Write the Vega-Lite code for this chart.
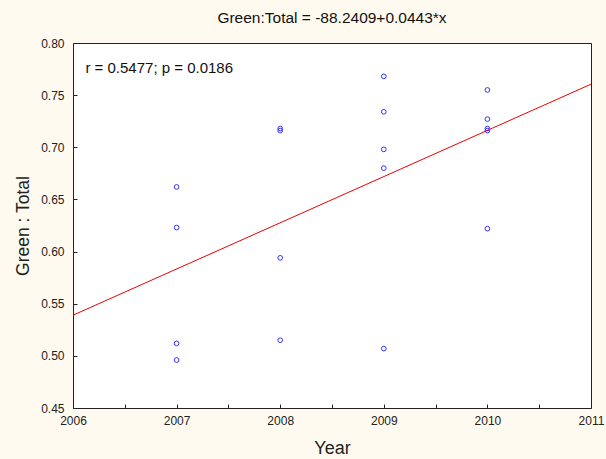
{
  "$schema": "https://vega.github.io/schema/vega-lite/v6.json",
  "width": 518,
  "height": 365,
  "autosize": {"type": "none"},
  "padding": {"left": 73, "top": 43, "right": 15, "bottom": 51},
  "background": "#FFFAEF",
  "config": {
    "font": "Liberation Sans",
    "view": {"fill": "white", "stroke": "#222", "strokeWidth": 1}
  },
  "title": {"text": "Green:Total = -88.2409+0.0443*x", "fontSize": 15.5, "fontWeight": "normal", "font": "Liberation Sans", "color": "#111", "offset": 11},
  "datasets": {
    "pts": [
      {"Year": 2007, "Ratio": 0.662}, {"Year": 2007, "Ratio": 0.623}, {"Year": 2007, "Ratio": 0.512}, {"Year": 2007, "Ratio": 0.496},
      {"Year": 2008, "Ratio": 0.718}, {"Year": 2008, "Ratio": 0.716}, {"Year": 2008, "Ratio": 0.594}, {"Year": 2008, "Ratio": 0.515},
      {"Year": 2009, "Ratio": 0.768}, {"Year": 2009, "Ratio": 0.734}, {"Year": 2009, "Ratio": 0.698}, {"Year": 2009, "Ratio": 0.680}, {"Year": 2009, "Ratio": 0.507},
      {"Year": 2010, "Ratio": 0.755}, {"Year": 2010, "Ratio": 0.727}, {"Year": 2010, "Ratio": 0.718}, {"Year": 2010, "Ratio": 0.716}, {"Year": 2010, "Ratio": 0.622}
    ],
    "fit": [{"Year": 2006, "Ratio": 0.539}, {"Year": 2011, "Ratio": 0.7605}]
  },
  "layer": [
    {
      "data": {"name": "pts"},
      "mark": {"type": "point", "shape": "circle", "filled": false, "color": "#3333FF", "size": 22, "strokeWidth": 1, "opacity": 1},
      "encoding": {
        "x": {"field": "Year", "type": "quantitative", "scale": {"domain": [2006, 2011], "nice": false, "zero": false},
              "axis": {"values": [2006, 2006.25, 2006.5, 2006.75, 2007, 2007.25, 2007.5, 2007.75, 2008, 2008.25, 2008.5, 2008.75, 2009, 2009.25, 2009.5, 2009.75, 2010, 2010.25, 2010.5, 2010.75, 2011],
                       "labelExpr": "datum.value % 1 == 0 ? format(datum.value, 'd') : ''",
                       "labelOverlap": false, "labelBound": false, "labelFlush": false,
                       "grid": false, "domain": false, "zindex": 1,
                       "offset": -4, "tickSize": 4, "tickColor": "#222", "tickWidth": 1,
                       "labelPadding": 7, "labelFontSize": 12, "labelColor": "#222", "labelFont": "Liberation Sans",
                       "title": "Year", "titleFont": "Liberation Sans", "titleFontWeight": "normal", "titleColor": "#222", "titleFontSize": 18, "titlePadding": 13}},
        "y": {"field": "Ratio", "type": "quantitative", "scale": {"domain": [0.45, 0.80], "nice": false, "zero": false},
              "axis": {"values": [0.45, 0.4625, 0.475, 0.4875, 0.5, 0.5125, 0.525, 0.5375, 0.55, 0.5625, 0.575, 0.5875, 0.6, 0.6125, 0.625, 0.6375, 0.65, 0.6625, 0.675, 0.6875, 0.7, 0.7125, 0.725, 0.7375, 0.75, 0.7625, 0.775, 0.7875, 0.8],
                       "labelExpr": "abs(datum.value * 20 - round(datum.value * 20)) < 0.001 ? format(datum.value, '.2f') : ''",
                       "labelOverlap": false, "labelBound": false, "labelFlush": false,
                       "grid": false, "domain": false, "zindex": 1,
                       "offset": -4, "tickSize": 4, "tickColor": "#222", "tickWidth": 1,
                       "labelPadding": 9, "labelFontSize": 12, "labelColor": "#222", "labelFont": "Liberation Sans",
                       "title": "Green : Total", "titleFont": "Liberation Sans", "titleFontWeight": "normal", "titleColor": "#222", "titleFontSize": 17.5, "titlePadding": 8}}
      }
    },
    {
      "data": {"name": "fit"},
      "mark": {"type": "line", "color": "#EE0000", "strokeWidth": 1},
      "encoding": {
        "x": {"field": "Year", "type": "quantitative"},
        "y": {"field": "Ratio", "type": "quantitative"}
      }
    },
    {
      "data": {"values": [{"label": "r = 0.5477; p = 0.0186"}]},
      "mark": {"type": "text", "align": "left", "baseline": "middle", "fontSize": 15, "color": "#111", "font": "Liberation Sans"},
      "encoding": {
        "text": {"field": "label"},
        "x": {"datum": 2006.12, "type": "quantitative"},
        "y": {"datum": 0.776, "type": "quantitative"}
      }
    }
  ]
}
